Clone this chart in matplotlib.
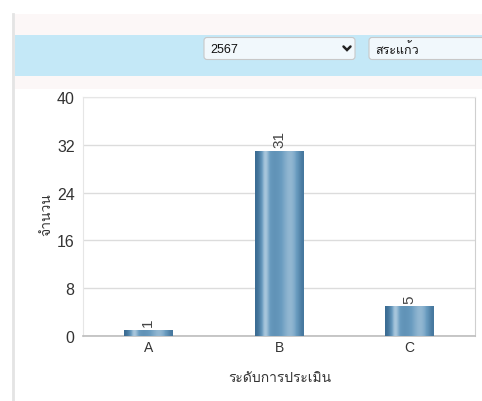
import numpy as np
import matplotlib
matplotlib.use("Agg")
import matplotlib.pyplot as plt
from matplotlib.patches import FancyBboxPatch, Rectangle
from matplotlib import font_manager
from matplotlib.ft2font import FT2Font

categories = ["A", "B", "C"]
counts = [1, 31, 5]
y_ticks = [0, 8, 16, 24, 32, 40]
year_label = "2567"
province_label = "สระแก้ว"
x_title = "ระดับการประเมิน"
y_title = "จำนวน"


def thai_families():
    """Installed families that carry Thai glyphs (ก = U+0E01)."""
    found = []
    for f in font_manager.fontManager.ttflist:
        try:
            if 0x0E01 in FT2Font(f.fname).get_charmap() and f.name not in found:
                found.append(f.name)
        except Exception:
            pass
    return found


thai = thai_families()
plt.rcParams['font.family'] = ['Liberation Sans'] + thai + ['DejaVu Sans']

W, H = 482, 402
fig = plt.figure(figsize=(W / 100, H / 100), dpi=100)

# page background pieces (pixel coords, origin top-left)
bg = fig.add_axes([0, 0, 1, 1])
bg.set_xlim(0, W)
bg.set_ylim(H, 0)
bg.axis("off")
bg.add_patch(Rectangle((15, 15), W - 15, 75, color="#fcf7f7", lw=0))
bg.add_patch(Rectangle((15, 36), W - 15, 41, color="#c4e8f7", lw=0))
bg.plot([13, 13], [15, H], color="#e4e4e4", lw=2)
for x0, x1, txt in [(204, 355, year_label), (369, 500, province_label)]:
    bg.add_patch(FancyBboxPatch((x0, 38.5), x1 - x0, 22, boxstyle="round,pad=0,rounding_size=3",
                                fc="#f1f8fc", ec="#c8c8c8", lw=0.8))
    bg.text(x0 + 6, 50, txt, fontsize=9, va="center", ha="left", color="#111111")
# dropdown chevron
bg.plot([343.5, 347, 350.5], [47.5, 51, 47.5], color="#222222", lw=1.8,
        solid_capstyle="round", solid_joinstyle="miter")

# chart panel
ax = fig.add_axes([83 / W, 1 - 337 / H, 392 / W, 239 / H])
x = np.arange(len(categories))
bars = ax.bar(x, counts, width=0.37, color="#6a9cc0", zorder=3)
ax.set_xlim(-0.5, 2.5)
ax.set_ylim(0, 40)

# cylinder-like shading on each bar
grad = np.array([0.0, 0.35, 0.9, 0.5, 0.4, 0.42, 0.5, 0.6, 0.68, 0.62, 0.45, 0.12])
cmap = matplotlib.colors.LinearSegmentedColormap.from_list(
    "bar", ["#3a6b92", "#6a9cc0", "#e8f1f8"])
for b in bars:
    bx, by, bw, bh = b.get_x(), b.get_y(), b.get_width(), b.get_height()
    im = ax.imshow(grad[np.newaxis, :], cmap=cmap, aspect="auto",
                   extent=[bx, bx + bw, by, by + bh], zorder=3, vmin=0, vmax=1,
                   interpolation="bicubic")
    im.set_clip_path(b)
    b.set_visible(False)
    ax.text(bx + bw / 2, bh + 0.6, str(int(bh)), rotation=90, ha="center", va="bottom",
            fontsize=11, color="#444444")

ax.set_yticks(y_ticks)
ax.set_xticks(x, categories)
ax.tick_params(axis="both", length=0, labelsize=11.5, colors="#333333", pad=6)
ax.tick_params(axis="x", labelsize=10, pad=3)
ax.grid(axis="y", color="#dcdcdc", lw=1, zorder=0)
for s in ["top", "right", "left"]:
    ax.spines[s].set_color("#e6e6e6")
ax.spines["right"].set_color("#cfcfcf")
ax.spines["bottom"].set_color("#bdbdbd")
ax.spines["bottom"].set_linewidth(1.2)

fig.text(280 / W, 1 - 378 / H, x_title, ha="center", va="center", fontsize=10, color="#333333")
fig.text(46 / W, 1 - 215 / H, y_title, ha="center", va="center", fontsize=10, rotation=90,
         color="#333333")

fig.savefig("out.png", dpi=100)
